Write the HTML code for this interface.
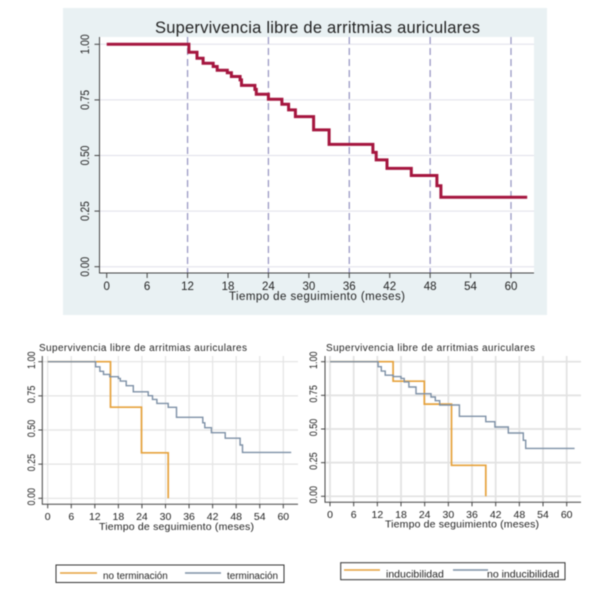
<!DOCTYPE html>
<html lang="es">
<head>
<meta charset="utf-8">
<title>Supervivencia libre de arritmias auriculares</title>
<style>
html,body{margin:0;padding:0;background:#fff;}
body{width:610px;height:600px;overflow:hidden;}
svg{display:block;filter:blur(0.4px);}
text{font-family:"Liberation Sans",Arial,sans-serif;fill:#222;}
</style>
</head>
<body>
<svg id="figure" width="610" height="600" viewBox="0 0 610 600" xmlns="http://www.w3.org/2000/svg"></svg>
<script>
const xTicks = [0, 6, 12, 18, 24, 30, 36, 42, 48, 54, 60];
const yTicks = [0, 0.25, 0.5, 0.75, 1];
const yTickLabels = ['0.00', '0.25', '0.50', '0.75', '1.00'];
const dashedMonths = [12, 24, 36, 48, 60];

const allTimes = [0, 12.2, 13.4, 14.3, 15.8, 16.4, 17.9, 18.5, 19.8, 20, 22, 22.2, 24, 26, 27, 28, 30.7, 33, 39.5, 40, 41.6, 45.2, 49, 49.6, 62.4];
const allSurvival = [1, 0.964, 0.937, 0.915, 0.9, 0.883, 0.872, 0.855, 0.84, 0.815, 0.797, 0.775, 0.753, 0.73, 0.705, 0.675, 0.615, 0.55, 0.514, 0.48, 0.442, 0.41, 0.364, 0.312, 0.312];

const noTermTimes = [0, 16, 23.9, 30.7];
const noTermSurvival = [1, 0.667, 0.333, 0];
const termTimes = [0, 12.2, 13.3, 14.2, 15.8, 18, 18.5, 20, 21.8, 25.6, 26.7, 27.8, 30.7, 32.8, 39.5, 40, 41.7, 45.2, 49, 49.6, 62];
const termSurvival = [1, 0.963, 0.93, 0.907, 0.89, 0.878, 0.858, 0.824, 0.78, 0.751, 0.724, 0.695, 0.666, 0.593, 0.553, 0.517, 0.48, 0.44, 0.39, 0.336, 0.336];

const inducTimes = [0, 16, 23.9, 30.8, 39.5];
const inducSurvival = [1, 0.855, 0.685, 0.23, 0];
const noInducTimes = [0, 12.2, 13, 14, 16, 18, 18.8, 20, 21.8, 25.6, 26.7, 27.8, 32.8, 39.5, 41.8, 45.2, 49, 49.6, 62];
const noInducSurvival = [1, 0.963, 0.93, 0.9, 0.889, 0.876, 0.85, 0.812, 0.762, 0.738, 0.71, 0.678, 0.594, 0.554, 0.515, 0.47, 0.416, 0.356, 0.356];

const NS = 'http://www.w3.org/2000/svg';
const figure = document.getElementById('figure');

function add(parent, tag, attrs, txt) {
  const el = document.createElementNS(NS, tag);
  for (const k in attrs) el.setAttribute(k, attrs[k]);
  if (txt !== undefined) el.textContent = txt;
  parent.appendChild(el);
  return el;
}

function stepPath(times, values, xs, ys) {
  let d = 'M' + xs(times[0]).toFixed(1) + ' ' + ys(values[0]).toFixed(1);
  for (let i = 1; i < times.length; i++) {
    d += 'H' + xs(times[i]).toFixed(1) + 'V' + ys(values[i]).toFixed(1);
  }
  return d;
}

function drawChart(o) {
  const xs = m => o.x0 + (m / 60) * (o.x60 - o.x0);
  const ys = v => o.y0 + v * (o.y1 - o.y0);
  const g = add(figure, 'g', {});
  
  

  if (o.panelBg) {
    const bg = add(g, 'rect', {x: o.panelBg[0], y: o.panelBg[1], width: o.panelBg[2], height: o.panelBg[3], fill: '#e9f1f3'});
    
    
  }
  const plot = add(g, 'rect', {x: o.left, y: o.top, width: o.right - o.left, height: o.bottom - o.top, fill: '#fff'});
  
  

  yTicks.forEach((t, i) => {
    const gl = add(g, 'line', {x1: o.left, x2: o.right, y1: ys(t), y2: ys(t), stroke: o.gridColor, 'stroke-width': o.gridWidth});
    
    
    const tk = add(g, 'line', {x1: o.left - o.tick, x2: o.left, y1: ys(t), y2: ys(t), stroke: '#444', 'stroke-width': 1});
    
    
    const lb = add(g, 'text', {transform: 'translate(' + o.yLabelX + ' ' + (ys(t) + o.yLabelShift) + ') rotate(-90) scale(0.85 1)', 'text-anchor': 'middle', 'font-size': o.yTickFont}, yTickLabels[i]);
    
    
  });

  xTicks.forEach(t => {
    if (o.verticalGrid) {
      const gl = add(g, 'line', {x1: xs(t), x2: xs(t), y1: o.top, y2: o.bottom, stroke: o.gridColor, 'stroke-width': o.gridWidth});
      
      
    }
    const tk = add(g, 'line', {x1: xs(t), x2: xs(t), y1: o.bottom, y2: o.bottom + o.tick, stroke: '#444', 'stroke-width': 1});
    
    
    const lb = add(g, 'text', {x: xs(t), y: o.xLabelY, 'text-anchor': 'middle', 'font-size': o.tickFont}, String(t));
    
    
  });

  if (o.dashed) {
    dashedMonths.forEach(m => {
      const dl = add(g, 'line', {x1: xs(m), x2: xs(m), y1: o.top, y2: o.bottom, stroke: '#9a98c4', 'stroke-width': 1.3, 'stroke-dasharray': '7 4'});
      
      
    });
  }

  const ax = add(g, 'path', {d: 'M' + o.left + ' ' + o.top + 'V' + o.bottom + 'H' + o.right, fill: 'none', stroke: '#444', 'stroke-width': 1});
  
  

  o.series.forEach(s => {
    const p = add(g, 'path', {d: stepPath(s.t, s.v, xs, ys), fill: 'none', stroke: s.color, 'stroke-width': s.width});
    
    
  });

  const title = add(g, 'text', {x: o.titleX, y: o.titleY, 'font-size': o.titleFont, textLength: o.titleLen, lengthAdjust: 'spacing'}, 'Supervivencia libre de arritmias auriculares');
  
  

  const xt = add(g, 'text', {x: o.xTitleX, y: o.xTitleY, 'font-size': o.xTitleFont, textLength: o.xTitleLen, lengthAdjust: 'spacing'}, 'Tiempo de seguimiento (meses)');
  
  

  if (o.legend) {
    const L = o.legend;
    const lg = add(g, 'g', {});
    
    
    const box = add(lg, 'rect', {x: L.x, y: L.y, width: L.w, height: L.h, fill: '#fff', stroke: '#333', 'stroke-width': 1});
    
    
    L.items.forEach(it => {
      const ln = add(lg, 'line', {x1: it.x1, x2: it.x2, y1: L.lineY, y2: L.lineY, stroke: it.color, 'stroke-width': 1.5});
      
      
      const tx = add(lg, 'text', {x: it.tx, y: L.textY, 'font-size': L.font}, it.label);
      
      
    });
  }
}

drawChart({
  name: 'main-survival-chart', panelBg: [63, 8, 484, 307],
  left: 99.5, right: 534, top: 37, bottom: 273,
  x0: 106.7, x60: 511, y0: 266.7, y1: 44.3,
  gridColor: '#e0e0ea', gridWidth: 1, verticalGrid: false, dashed: true, tick: 5,
  tickFont: 11.5, yTickFont: 12, yLabelX: 89, yLabelShift: 0, xLabelY: 290,
  titleX: 155, titleY: 33, titleFont: 16.5, titleLen: 325,
  xTitleX: 229, xTitleY: 300, xTitleFont: 11.5, xTitleLen: 176,
  series: [{name: 'overall-survival-line', t: allTimes, v: allSurvival, color: '#a5163f', width: 3}]
});

drawChart({
  name: 'termination-survival-chart',
  left: 42.3, right: 298, top: 356, bottom: 504.3,
  x0: 47.7, x60: 283.3, y0: 498.3, y1: 361.7,
  gridColor: '#e4e4e4', gridWidth: 1.2, verticalGrid: true, dashed: false, tick: 4,
  tickFont: 10.5, yTickFont: 10.6, yLabelX: 35, yLabelShift: -1.5, xLabelY: 520,
  titleX: 39, titleY: 351, titleFont: 10, titleLen: 208,
  xTitleX: 99, xTitleY: 530, xTitleFont: 10.5, xTitleLen: 155,
  series: [
    {name: 'no-termination-line', t: noTermTimes, v: noTermSurvival, color: '#e6a23c', width: 1.7},
    {name: 'termination-line', t: termTimes, v: termSurvival, color: '#7d90a6', width: 1.4}
  ],
  legend: {x: 56, y: 565, w: 228, h: 17.5, lineY: 573, textY: 579, font: 9.9,
    items: [
      {x1: 60, x2: 97, tx: 103, color: '#e6a23c', label: 'no terminación'},
      {x1: 185, x2: 221, tx: 227, color: '#7d90a6', label: 'terminación'}
    ]}
});

drawChart({
  name: 'inducibility-survival-chart',
  left: 325, right: 581, top: 356, bottom: 502.3,
  x0: 330, x60: 566.7, y0: 496.3, y1: 361.7,
  gridColor: '#e2e2e2', gridWidth: 1.7, verticalGrid: true, dashed: false, tick: 4,
  tickFont: 10.5, yTickFont: 10.6, yLabelX: 317, yLabelShift: -1.5, xLabelY: 518,
  titleX: 326, titleY: 351, titleFont: 10, titleLen: 209,
  xTitleX: 385, xTitleY: 527.5, xTitleFont: 10.5, xTitleLen: 154,
  series: [
    {name: 'inducibility-line', t: inducTimes, v: inducSurvival, color: '#e6a23c', width: 1.7},
    {name: 'no-inducibility-line', t: noInducTimes, v: noInducSurvival, color: '#7d90a6', width: 1.4}
  ],
  legend: {x: 340.7, y: 562.7, w: 224.3, h: 17, lineY: 570, textY: 577.5, font: 10.5,
    items: [
      {x1: 344, x2: 380, tx: 386, color: '#e6a23c', label: 'inducibilidad'},
      {x1: 453, x2: 488, tx: 487, color: '#7d90a6', label: 'no inducibilidad'}
    ]}
});
</script>
</body>
</html>
